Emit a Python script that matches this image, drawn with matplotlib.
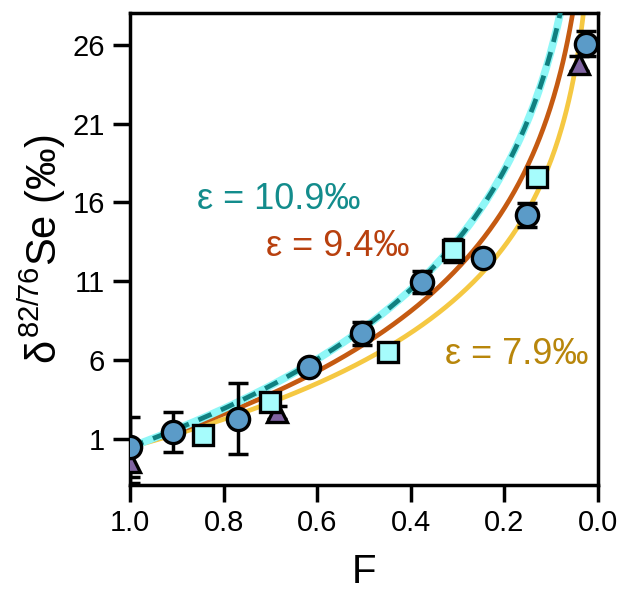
import numpy as np
import matplotlib.pyplot as plt

plt.rcParams['font.family'] = ['Liberation Sans', 'DejaVu Sans']
plt.rcParams['mathtext.fontset'] = 'custom'
plt.rcParams['mathtext.rm'] = 'Liberation Sans'
plt.rcParams['mathtext.it'] = 'Liberation Sans'

# measured data (F = fraction of Se remaining)
F_circ = [1.00, 0.909, 0.77, 0.617, 0.504, 0.376, 0.245, 0.152, 0.026]
d_circ = [0.5, 1.45, 2.3, 5.56, 7.7, 10.94, 12.45, 15.2, 26.06]
e_circ = [1.9, 1.27, 2.25, 0.3, 0.73, 0.7, 0.3, 0.75, 0.8]

F_sq = [0.845, 0.70, 0.448, 0.31, 0.13]
d_sq = [1.25, 3.35, 6.5, 12.96, 17.6]
e_sq = [0.4, 0.4, 0.3, 0.75, 0.3]

F_tri = [1.00, 0.685, 0.04]
d_tri = [-0.45, 2.7, 24.8]
e_tri = [1.35, 0.4, 0.5]

# Rayleigh model curves
d0 = 0.5
F_model = np.linspace(1.0, 0.01, 400)


def rayleigh(eps, F):
    return d0 - eps * np.log(F)


fig = plt.figure(figsize=(6.26, 5.92), dpi=100)
ax = fig.add_axes([0.2077, 0.1807, 0.7473, 0.7973])

ax.plot(F_model, rayleigh(7.9, F_model), color='#f5c842', lw=3.4, zorder=2)
ax.plot(F_model, rayleigh(9.4, F_model), color='#c55a11', lw=3.4, zorder=2)
ax.plot(F_model, rayleigh(10.9, F_model), color='#8ff7f7', lw=5.5, zorder=2)
ax.plot(F_model, rayleigh(10.9, F_model), color='#108080', lw=3.4,
        dashes=(3, 2.2), zorder=3)

eb = dict(fmt='none', ecolor='black', elinewidth=2.5, capsize=7.5,
          capthick=2.5, zorder=4)
ax.errorbar(F_tri, d_tri, yerr=e_tri, **eb)
ax.errorbar(F_sq, d_sq, yerr=e_sq, **eb)
ax.errorbar(F_circ, d_circ, yerr=e_circ, **eb)

ax.plot(F_tri, d_tri, '^', ms=15, mfc='#8064a2', mec='black', mew=2.4,
        ls='none', zorder=5)
ax.plot(F_sq, d_sq, 's', ms=14, mfc='#a6fcfc', mec='black', mew=2.4,
        ls='none', zorder=5)
ax.plot(F_circ, d_circ, 'o', ms=16, mfc='#5b9bc8', mec='black', mew=2.4,
        ls='none', zorder=6)

ax.text(0.856, 16.2, 'ε = 10.9‰', color='#138c8c', fontsize=26,
        ha='left', va='center')
ax.text(0.71, 13.2, 'ε = 9.4‰', color='#b8400e', fontsize=26,
        ha='left', va='center')
ax.text(0.021, 6.4, 'ε = 7.9‰', color='#b8860b', fontsize=26,
        ha='right', va='center')

ax.set_xlim(1.0, 0.0)
ax.set_ylim(-1.9, 28)
ax.set_xticks([1.0, 0.8, 0.6, 0.4, 0.2, 0.0])
ax.set_xticklabels(['1.0', '0.8', '0.6', '0.4', '0.2', '0.0'])
ax.set_yticks([1, 6, 11, 16, 21, 26])

for s in ax.spines.values():
    s.set_linewidth(2.5)
ax.tick_params(direction='out', length=12, width=2.5, labelsize=21)
ax.tick_params(axis='x', pad=5)
ax.tick_params(axis='y', pad=6)
ax.set_xlabel('F', fontsize=29, labelpad=12)
ax.set_ylabel(r'$\delta^{82/76}$Se (‰)', fontsize=30, labelpad=3)

fig.savefig('out.png', dpi=100)
